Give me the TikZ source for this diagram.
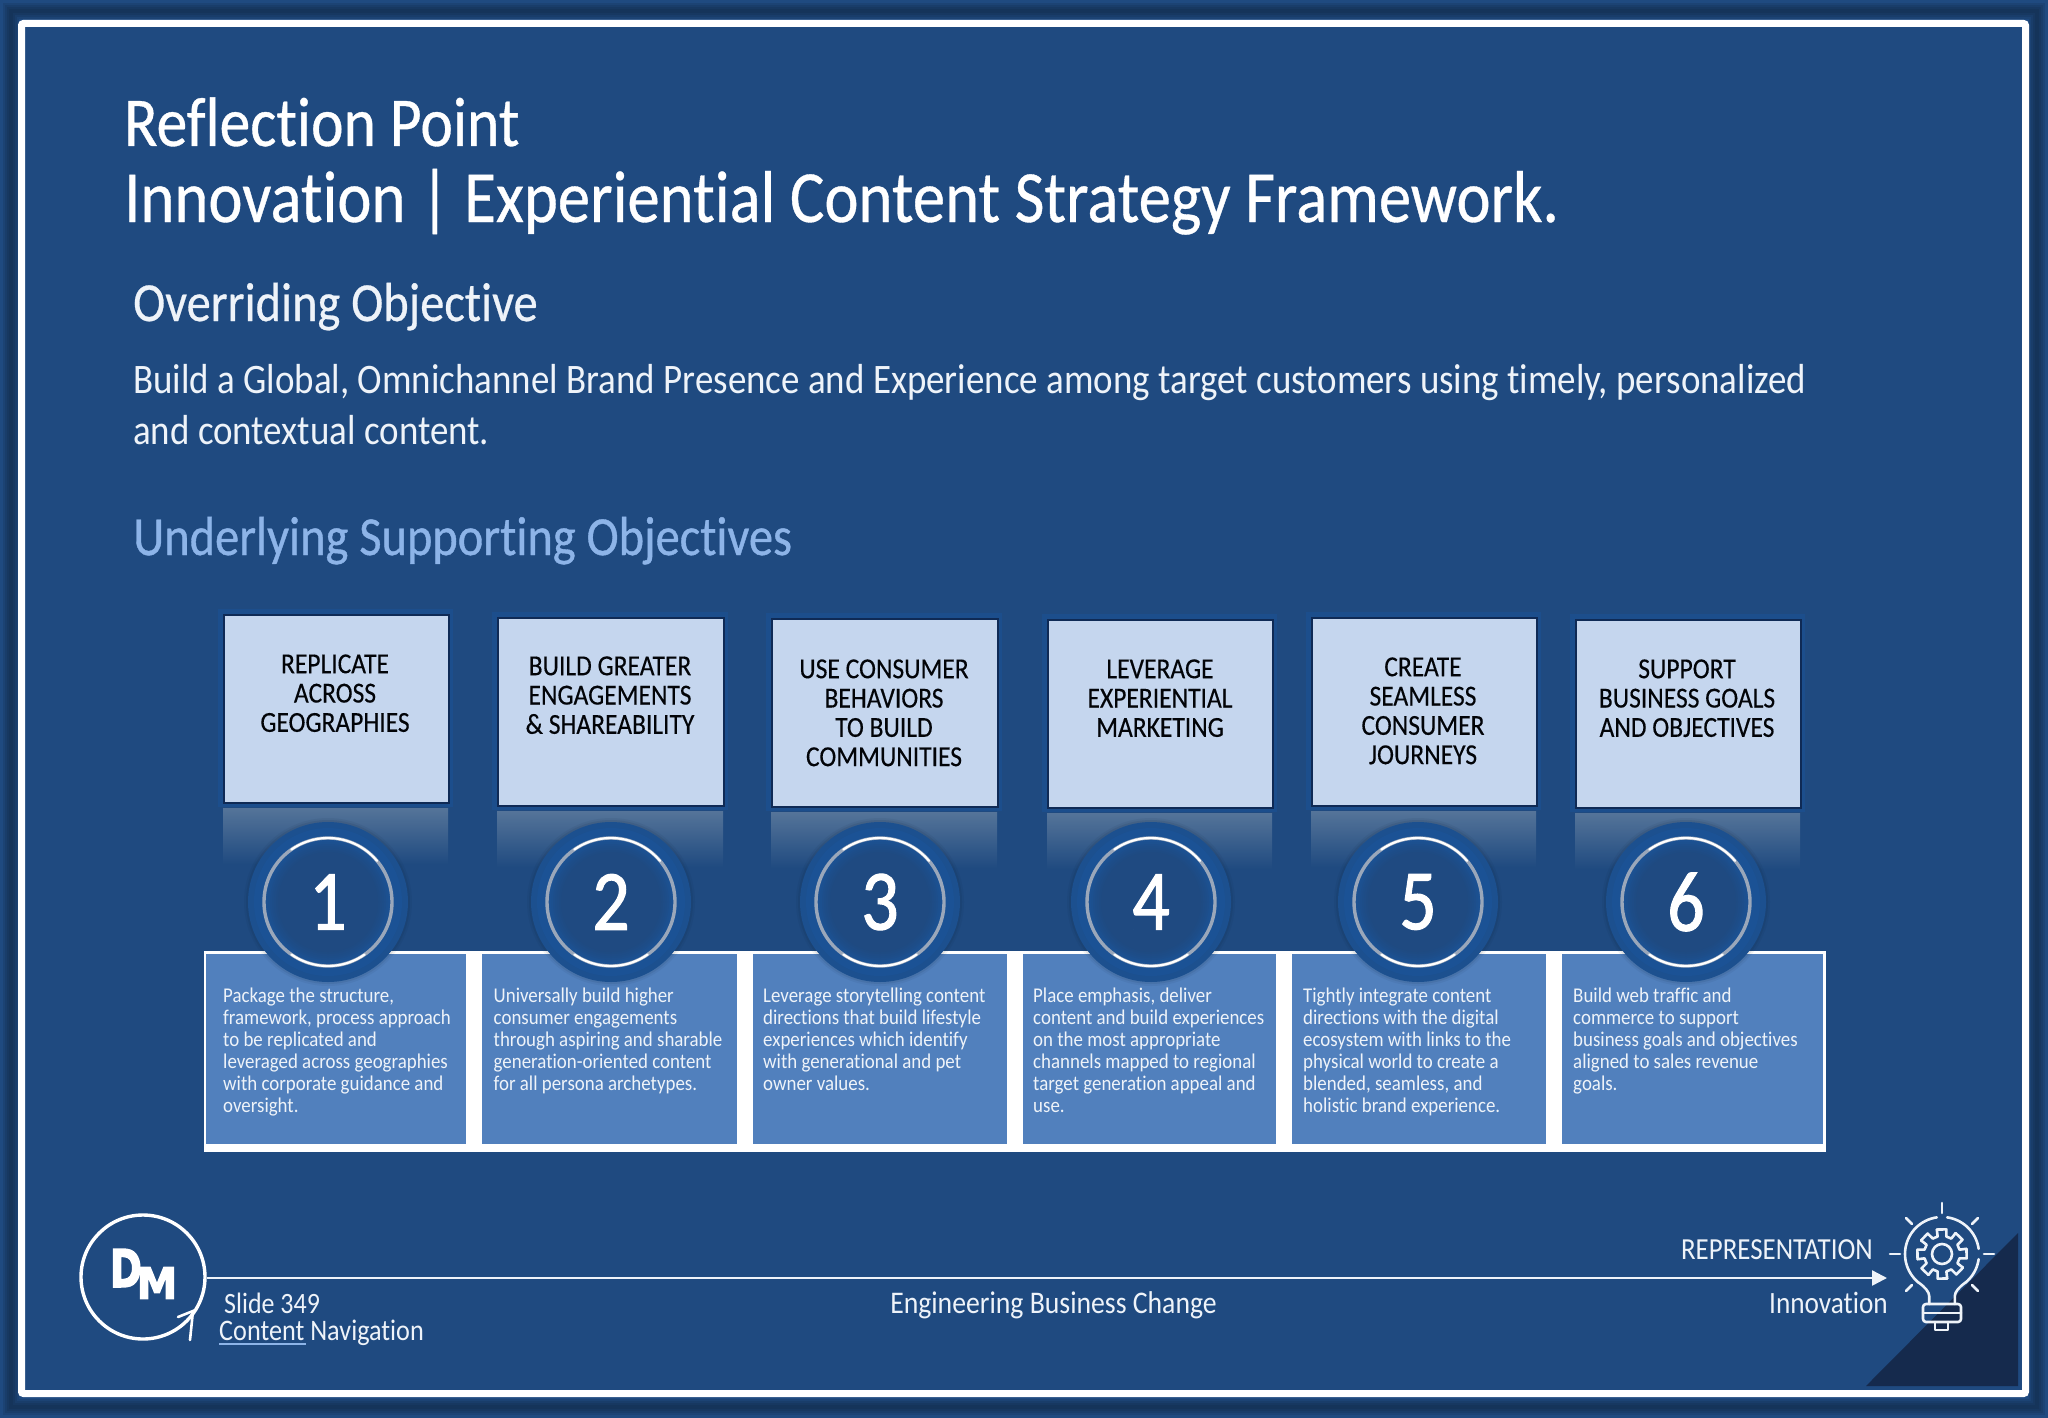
\documentclass[tikz,border=0pt]{standalone}
\usepackage{fontspec}
\setmainfont[Ligatures=CommonOff,FakeStretch=0.88]{Carlito}
\newfontfamily\titlefont[Ligatures=CommonOff,FakeStretch=0.88,FakeBold=0.5]{Carlito}
\newfontfamily\headfont[Ligatures=CommonOff,FakeStretch=0.88,FakeBold=0.7]{Carlito}
\newfontfamily\thinfont[Ligatures=CommonOff,FakeStretch=0.88]{Carlito}
\newfontfamily\boxfont[Ligatures=CommonOff,FakeStretch=0.88,FakeBold=0.3]{Carlito}
\newfontfamily\panelfont[Ligatures=CommonOff,FakeStretch=0.9]{Carlito}
\newfontfamily\digitfont[FakeStretch=0.86,FakeBold=1.2]{Carlito}
\newfontfamily\logofont[FakeBold=3]{DejaVu Sans Bold}
\usetikzlibrary{arrows.meta}
\definecolor{bgblue}{HTML}{1F4A80}
\definecolor{panelblue}{HTML}{5180BD}
\definecolor{boxblue}{HTML}{C5D6EE}
\definecolor{boxedge}{HTML}{0F2A55}
\definecolor{glowblue}{HTML}{1C4E8C}
\definecolor{discblue}{HTML}{1B5295}
\definecolor{subblue}{HTML}{8DB4E8}
\definecolor{darktri}{HTML}{152A4D}
\definecolor{softwhite}{HTML}{EEF3F9}
\definecolor{reflect}{HTML}{557499}
\tikzset{
  framedark/.style={draw=black!60!bgblue,opacity=.15},
  headbox/.style={draw=boxedge,line width=1.6pt,fill=boxblue,inner sep=0pt},
  labeltext/.style={anchor=north,align=center,inner sep=0pt,text=black!90!boxedge,font=\boxfont\fontsize{29}{29.3}\selectfont},
  paneltext/.style={anchor=north west,align=left,inner sep=0pt,text=softwhite,font=\panelfont\fontsize{21}{22}\selectfont},
  panelbox/.style={fill=panelblue,draw=none,inner sep=0pt},
  linetext/.style={anchor=base west,inner sep=0pt,text=softwhite},
  digit/.style={circle,inner sep=0pt,minimum size=128pt,text=white,font=\digitfont\fontsize{86}{86}\selectfont},
  bulbline/.style={draw=softwhite,line width=2.6pt,line cap=round,line join=round},
}
\newcommand{\headcard}[5]{% name, x1, y1, x2, y2
  \fill[glowblue] (#2-5,#3-5) rectangle (#4+5,#5+5);
  \shade[top color=reflect,bottom color=bgblue] (#2,#5+6) rectangle (#4,#5+62);
  \node[headbox,minimum width=#4-#2,minimum height=#5-#3,anchor=north west] (#1) at (#2,#3) {};
}
\newcommand{\numdisc}[3]{% name, x, digit
  \foreach \rr/\oo in {84/.05,82/.08}{\fill[black!70!bgblue,opacity=\oo] (#2,902) circle[radius=\rr];}
  \fill[discblue!70!bgblue] (#2,902) circle[radius=80];
  \fill[discblue] (#2,902) circle[radius=74];
  \foreach \rr/\pp in {64/100,62/85,60/70,58/55,56/40,54/28,52/16,50/6}{\fill[discblue!\pp!bgblue] (#2,902) circle[radius=\rr];}
  \draw[line width=3.4pt,draw=black!22!boxblue] (#2,902) circle[radius=64];
  \draw[line width=2.2pt,draw=white,line cap=round,shift={(#2,902)}] plot[domain=235:320,samples=24] (\x:64);
  \draw[line width=2.2pt,draw=white,line cap=round,shift={(#2,902)}] plot[domain=55:125,samples=24] (\x:64);
  \node[digit] (#1) at (#2,902) {#3};
}
\begin{document}
\begin{tikzpicture}[x=1pt,y=-1pt]
\useasboundingbox (0,0) rectangle (2048,1418);
% page and frame
\fill[bgblue] (0,0) rectangle (2048,1418);
\foreach \w in {16,12,8,4}{\draw[framedark,line width=\w pt] (11,11) rectangle (2037,1407);}
\draw[white,line width=7pt,fill=bgblue,rounded corners=2pt] (21.5,23.5) rectangle (2025.5,1393.5);
\fill[darktri] (2018,1233) -- (2018,1386) -- (1866,1386) -- cycle;
% title block
\node[linetext,text=white,font=\titlefont\fontsize{70}{70}\selectfont] (title1) at (124,146) {Reflection Point};
\node[linetext,text=white,font=\titlefont\fontsize{73.5}{73.5}\selectfont] (title2) at (124,222) {Innovation | Experiential Content Strategy Framework.};
\node[linetext,font=\titlefont\fontsize{55}{55}\selectfont] (over) at (133,321) {Overriding Objective};
\node[linetext,font=\thinfont\fontsize{42}{42}\selectfont] (body1) at (133,393) {Build a Global, Omnichannel Brand Presence and Experience among target customers using timely, personalized};
\node[linetext,font=\thinfont\fontsize{42}{42}\selectfont] (body2) at (133,444) {and contextual content.};
\node[linetext,text=subblue,font=\headfont\fontsize{55}{55}\selectfont] (under) at (133,555) {Underlying Supporting Objectives};
% header cards
\headcard{b1}{223}{614}{448}{802}
\headcard{b2}{497}{617}{723}{805}
\headcard{b3}{771}{618}{997}{806}
\headcard{b4}{1047}{619}{1272}{807}
\headcard{b5}{1311}{617}{1536}{805}
\headcard{b6}{1575}{619}{1800}{807}
\node[labeltext] (t1) at (335,652.5) {\strut REPLICATE\\ACROSS\\GEOGRAPHIES};
\node[labeltext] (t2) at (610,654.5) {\strut BUILD GREATER\\ENGAGEMENTS\\\& SHAREABILITY};
\node[labeltext] (t3) at (884,657.5) {\strut USE CONSUMER\\BEHAVIORS\\TO BUILD\\COMMUNITIES};
\node[labeltext] (t4) at (1160,657.5) {\strut LEVERAGE\\EXPERIENTIAL\\MARKETING};
\node[labeltext] (t5) at (1423,655.5) {\strut CREATE\\SEAMLESS\\CONSUMER\\JOURNEYS};
\node[labeltext] (t6) at (1687,657.5) {\strut SUPPORT\\BUSINESS GOALS\\AND OBJECTIVES};
% panel strip
\fill[white] (204,951) rectangle (1826,1152);
\fill[panelbox] (206,954) rectangle (466,1144);
\fill[panelbox] (482,954) rectangle (737,1144);
\fill[panelbox] (753,954) rectangle (1007,1144);
\fill[panelbox] (1023,954) rectangle (1276,1144);
\fill[panelbox] (1292,954) rectangle (1546,1144);
\fill[panelbox] (1562,954) rectangle (1823,1144);
\node[paneltext] (p1) at (223,986.6) {\strut Package the structure,\\framework, process approach\\to be replicated and\\leveraged across geographies\\with corporate guidance and\\oversight.};
\node[paneltext] (p2) at (493.5,986.6) {\strut Universally build higher\\consumer engagements\\through aspiring and sharable\\generation-oriented content\\for all persona archetypes.};
\node[paneltext] (p3) at (763,986.6) {\strut Leverage storytelling content\\directions that build lifestyle\\experiences which identify\\with generational and pet\\owner values.};
\node[paneltext] (p4) at (1033,986.6) {\strut Place emphasis, deliver\\content and build experiences\\on the most appropriate\\channels mapped to regional\\target generation appeal and\\use.};
\node[paneltext] (p5) at (1303,986.6) {\strut Tightly integrate content\\directions with the digital\\ecosystem with links to the\\physical world to create a\\blended, seamless, and\\holistic brand experience.};
\node[paneltext] (p6) at (1573,986.6) {\strut Build web traffic and\\commerce to support\\business goals and objectives\\aligned to sales revenue\\goals.};
% numbered discs
\numdisc{n1}{328}{1}
\numdisc{n2}{611}{2}
\numdisc{n3}{880}{3}
\numdisc{n4}{1151}{4}
\numdisc{n5}{1418}{5}
\numdisc{n6}{1686}{6}
% logo
\node[circle,draw=white,line width=3.4pt,minimum size=124pt,inner sep=0pt] (logo) at (143,1277) {};
\node[inner sep=0pt,text=white,font=\logofont\fontsize{52}{52}\selectfont] (logod) at (126,1268) {\scalebox{.74}[1]{D}};
\node[inner sep=0pt,text=white,font=\logofont\fontsize{43}{43}\selectfont] (logom) at (157,1283) {\scalebox{.95}[1]{M}};
\coordinate (loopend) at (193,1311);
\coordinate (loopa) at (190,1340);
\coordinate (loopb) at (178,1317);
\draw[white,line width=2.6pt,line cap=round] (loopa) -- (loopend) -- (loopb);
% footer
\coordinate (bulbtip) at (1887,1278);
\draw[softwhite,line width=2.4pt,-{Triangle[length=15pt,width=15pt]}] (logo.east |- bulbtip) -- (bulbtip);
\node[linetext,font=\thinfont\fontsize{29.5}{29.5}\selectfont] (slide) at (224,1313) {Slide 349};
\node[linetext,font=\thinfont\fontsize{29.8}{29.8}\selectfont] (nav) at (219,1340) {Content Navigation};
\coordinate (ula) at (219,1344);
\coordinate (ulb) at (306,1344);
\draw[subblue,line width=1.2pt] (ula) -- (ulb);
\node[anchor=base,inner sep=0pt,text=softwhite,font=\thinfont\fontsize{31.5}{31.5}\selectfont] (eng) at (1053.5,1313) {Engineering Business Change};
\node[anchor=base east,inner sep=0pt,text=softwhite,font=\thinfont\fontsize{30.6}{30.6}\selectfont] (rep) at (1873,1259) {REPRESENTATION};
\node[anchor=base east,inner sep=0pt,text=softwhite,font=\thinfont\fontsize{31}{31}\selectfont] (inno) at (1888,1313) {Innovation};
% bulb
\begin{scope}[shift={(1942,1254)},bulbline]
  \draw plot[domain=130:262,samples=30] (\x:37);
  \draw plot[domain=278:352,samples=20] (\x:37);
  \draw plot[domain=368:410,samples=12] (\x:37);
  \draw (-12.8,50) -- (-12.8,42) .. controls (-12.8,38) and (-17,33) .. (-23.8,28.3);
  \draw (12.8,50) -- (12.8,42) .. controls (12.8,38) and (17,33) .. (23.8,28.3);
  \draw[rounded corners=3pt] (-19,50) rectangle (19,68);
  \draw (-19,59) -- (19,59);
  \draw (-7,68) -- (-7,76) -- (6,76) -- (6,68);
  \draw (0,-51) -- (0,-41);
  \draw (-52,0) -- (-42,0);
  \draw (42,0) -- (52,0);
  \draw (-36,-36) -- (-30,-30);
  \draw (36,-36) -- (30,-30);
  \draw (-36,37) -- (-30,31);
  \draw (36,37) -- (30,31);
  \draw (0,0) circle[radius=10];
  \foreach \a in {0,45,...,315}{
    \draw (\a-12:25) -- (\a+10:25) -- (\a+14:18) -- (\a+31:18) -- (\a+33:25);
  }
\end{scope}
\end{tikzpicture}
\end{document}
